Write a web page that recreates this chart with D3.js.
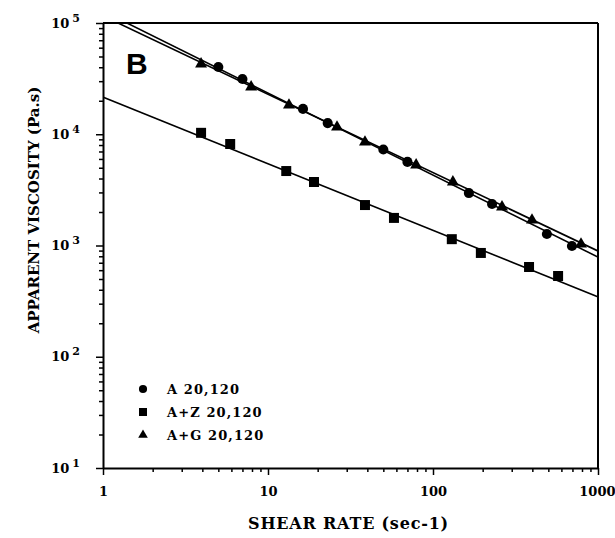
<!DOCTYPE html>
<html>
<head>
<meta charset="utf-8">
<script src="https://cdn.jsdelivr.net/npm/d3@7"></script>
<style>
  body { margin: 0; background: #fff; }
  text { font-family: "DejaVu Serif", serif; font-weight: bold; fill: #000; }
</style>
</head>
<body>
<div id="chart"></div>
<script>
////////////////////////////////////////////////////////////
//////////////////////// Data //////////////////////////////
////////////////////////////////////////////////////////////
var seriesNames = ['A 20,120', 'A+Z 20,120', 'A+G 20,120'];
var seriesSymbols = ['circle', 'square', 'triangle'];

// shear rate (sec-1) / apparent viscosity (Pa.s)
var rateA = [5, 7, 16.3, 23, 50, 70, 165, 228, 490, 695];
var viscA = [40200, 31400, 16900, 12600, 7300, 5640, 2960, 2360, 1270, 990];

var rateZ = [3.93, 5.9, 12.9, 19, 38.7, 58, 130, 195, 382, 573];
var viscZ = [10300, 8170, 4670, 3720, 2310, 1770, 1140, 857, 641, 532];

var rateG = [3.93, 7.9, 13.4, 26.2, 38.7, 79, 132, 262, 398, 789];
var viscG = [42800, 26600, 18300, 11600, 8510, 5300, 3720, 2220, 1690, 1030];

// power law fits: visc = K * rate^slope
var fitK = [127900, 21600, 115900];
var fitSlope = [-0.737, -0.599, -0.7045];

var xTickLabels = ['1', '10', '100', '1000'];

////////////////////////////////////////////////////////////
//////////////////////// Set-Up ////////////////////////////
////////////////////////////////////////////////////////////
var W = 615, H = 538;
var margin = {left: 103, top: 23, right: 17, bottom: 70};
var width = W - margin.left - margin.right,
    height = H - margin.top - margin.bottom;

var svg = d3.select('#chart').append('svg')
            .attr('width', W)
            .attr('height', H);

var g = svg.append('g')
           .attr('transform', 'translate(' + margin.left + ',' + margin.top + ')');

var x = d3.scaleLog().domain([1, 1000]).range([0, width]);
var y = d3.scaleLog().domain([10, 1e5]).range([height, 0]);

g.append('defs').append('clipPath').attr('id', 'plotClip')
 .append('rect').attr('width', width).attr('height', height);

// all the 1..9 ticks of each decade
function decadeTicks(lo, hi) {
    var t = [];
    for (var e = lo; e < hi; e++) {
        for (var m = 1; m < 10; m++) t.push(m * Math.pow(10, e));
    }
    t.push(Math.pow(10, hi));
    return t;
}
function isMajor(v) {
    var l = Math.log10(v);
    return Math.abs(l - Math.round(l)) < 1e-9;
}

// x axis
var xAxis = g.append('g').attr('transform', 'translate(0,' + height + ')')
    .call(d3.axisBottom(x).tickValues(decadeTicks(0, 3)).tickSizeOuter(0).tickFormat(''));
xAxis.selectAll('.tick line').attr('y2', function(d) { return isMajor(d) ? 7 : 4; })
     .attr('stroke-width', 1.5);
xAxis.select('.domain').attr('stroke-width', 2);
xAxis.selectAll('.tick').filter(function(d) { return isMajor(d); })
     .append('text')
     .attr('y', 28)
     .attr('x', function(d) { return d === 1000 ? 17 : 0; })
     .attr('text-anchor', function(d) { return d === 1000 ? 'end' : 'middle'; })
     .style('font-size', '13px')
     .text(function(d) { return xTickLabels[Math.round(Math.log10(d))]; });

// y axis
var yAxis = g.append('g')
    .call(d3.axisLeft(y).tickValues(decadeTicks(1, 5)).tickSizeOuter(0).tickFormat(''));
yAxis.selectAll('.tick line').attr('x2', function(d) { return isMajor(d) ? -7 : -4; })
     .attr('stroke-width', 1.5);
yAxis.select('.domain').attr('stroke-width', 2);
var yLab = yAxis.selectAll('.tick').filter(function(d) { return isMajor(d); })
     .append('text')
     .attr('x', -23)
     .attr('y', 4)
     .attr('text-anchor', 'end')
     .style('font-size', '13px');
yLab.append('tspan').text('10');
yLab.append('tspan').attr('dx', 3).attr('dy', -6).style('font-size', '11px')
    .text(function(d) { return Math.round(Math.log10(d)); });

// top and right border
g.append('line').attr('x1', 0).attr('x2', width).attr('y1', 0).attr('y2', 0)
 .attr('stroke', '#000').attr('stroke-width', 2);
g.append('line').attr('x1', width).attr('x2', width).attr('y1', 0).attr('y2', height)
 .attr('stroke', '#000').attr('stroke-width', 2);

// axis titles
svg.append('text')
   .attr('x', margin.left + width / 2 - 2)
   .attr('y', 529)
   .attr('text-anchor', 'middle')
   .style('font-size', '16px')
   .style('letter-spacing', '0.8px')
   .text('SHEAR RATE (sec-1)');
svg.append('text')
   .attr('transform', 'translate(39,210) rotate(-90)')
   .attr('text-anchor', 'middle')
   .style('font-size', '15px')
   .text('APPARENT VISCOSITY (Pa.s)');

// panel letter
g.append('text')
 .attr('x', 23)
 .attr('y', 51)
 .style('font-family', '"Liberation Sans", Arial, sans-serif')
 .style('font-size', '30px')
 .text('B');

////////////////////////////////////////////////////////////
//////////////////////// Marks /////////////////////////////
////////////////////////////////////////////////////////////
var series = [
    {rate: rateA, visc: viscA},
    {rate: rateZ, visc: viscZ},
    {rate: rateG, visc: viscG}
];
var symbolType = {circle: d3.symbolCircle, square: d3.symbolSquare, triangle: d3.symbolTriangle};
var symbolSize = {circle: 80, square: 100, triangle: 62};

var line = d3.line().x(function(d) { return x(d[0]); }).y(function(d) { return y(d[1]); });
var fitGroup = g.append('g').attr('clip-path', 'url(#plotClip)');
for (var sIdx = 0; sIdx < series.length; sIdx++) {
    var pts = [0.5, 2000].map(function(r) { return [r, fitK[sIdx] * Math.pow(r, fitSlope[sIdx])]; });
    fitGroup.append('path')
            .attr('d', line(pts))
            .attr('fill', 'none')
            .attr('stroke', '#000')
            .attr('stroke-width', 1.6);
}

for (var sIdx = 0; sIdx < series.length; sIdx++) {
    var s = series[sIdx];
    var sym = seriesSymbols[sIdx];
    g.selectAll('.pt' + sIdx)
     .data(s.rate.map(function(r, i) { return [r, s.visc[i]]; }))
     .enter().append('path')
     .attr('class', 'pt' + sIdx)
     .attr('d', d3.symbol().type(symbolType[sym]).size(symbolSize[sym]))
     .attr('transform', function(d) { return 'translate(' + x(d[0]) + ',' + y(d[1]) + ')'; })
     .attr('fill', '#000');
}

// legend
var legend = g.append('g').attr('transform', 'translate(40,366)');
var legItems = legend.selectAll('.leg').data(seriesNames).enter().append('g')
    .attr('transform', function(d, i) { return 'translate(0,' + (i * 23) + ')'; });
legItems.append('path')
    .attr('d', function(d, i) {
        var sym = seriesSymbols[i];
        return d3.symbol().type(symbolType[sym]).size(symbolSize[sym] * 0.65)();
    })
    .attr('fill', '#000');
legItems.append('text')
    .attr('x', 24)
    .attr('y', 5)
    .style('font-size', '13px')
    .style('letter-spacing', '1.1px')
    .text(function(d) { return d; });
</script>
</body>
</html>
